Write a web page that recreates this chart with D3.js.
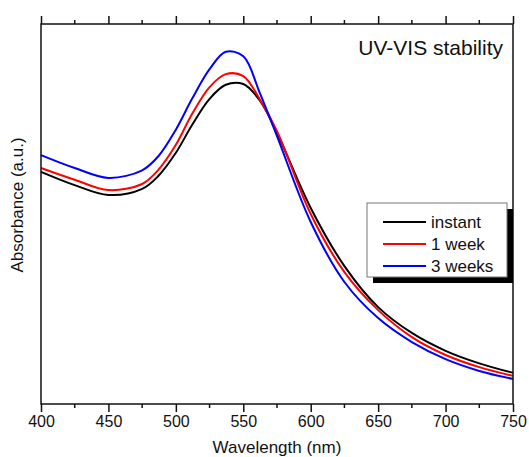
<!DOCTYPE html>
<html>
<head>
<meta charset="utf-8">
<script src="https://cdn.jsdelivr.net/npm/d3@7"></script>
<style>
  body { margin: 0; background: #fff; }
  text { font-family: "Liberation Sans", Arial, sans-serif; fill: #111; }
</style>
</head>
<body>
<script>
const wavelengths = [400, 425, 450, 475, 487, 500, 512, 525, 537, 550, 562, 575, 600, 625, 650, 675, 700, 725, 750];

// Absorbance (a.u.) for each sample
const instant = [0.611, 0.576, 0.550, 0.566, 0.600, 0.661, 0.734, 0.803, 0.840, 0.842, 0.800, 0.713, 0.516, 0.363, 0.255, 0.187, 0.140, 0.107, 0.082];
const oneWeek = [0.621, 0.590, 0.563, 0.579, 0.616, 0.682, 0.763, 0.834, 0.868, 0.863, 0.803, 0.718, 0.500, 0.347, 0.247, 0.176, 0.129, 0.097, 0.074];
const threeWeeks = [0.655, 0.621, 0.595, 0.615, 0.652, 0.722, 0.803, 0.881, 0.927, 0.915, 0.821, 0.705, 0.479, 0.321, 0.226, 0.163, 0.118, 0.087, 0.066];

const seriesNames = ["instant", "1 week", "3 weeks"];
const seriesColors = ["#000000", "#ff0000", "#0000ff"];
const xTicks = [400, 450, 500, 550, 600, 650, 700, 750];

const series = [instant, oneWeek, threeWeeks].map((vals, i) => ({
    name: seriesNames[i],
    color: seriesColors[i],
    points: wavelengths.map((w, j) => ({ x: w, y: vals[j] }))
}));

// Chart dimensions
const width = 529, height = 457;
const margin = { top: 24, right: 16, bottom: 53, left: 41 };
const innerW = width - margin.left - margin.right;
const innerH = height - margin.top - margin.bottom;

const svg = d3.select("body").append("svg")
    .attr("width", width)
    .attr("height", height);

const g = svg.append("g")
    .attr("transform", "translate(" + margin.left + "," + margin.top + ")");

const xScale = d3.scaleLinear().domain([400, 750]).range([0, innerW]);
const yScale = d3.scaleLinear().domain([0, 1]).range([innerH, 0]);

// Curves
const line = d3.line()
    .x(d => xScale(d.x))
    .y(d => yScale(d.y))
    .curve(d3.curveCatmullRom.alpha(0.5));

g.selectAll(".curve")
    .data(series)
    .enter().append("path")
    .attr("class", "curve")
    .attr("d", d => line(d.points))
    .attr("fill", "none")
    .attr("stroke", d => d.color)
    .attr("stroke-width", 2);

// Minor ticks every 25 nm
const minorTicks = d3.range(425, 750, 50);

// Bottom axis
const xAxis = d3.axisBottom(xScale).tickValues(xTicks).tickSize(8).tickPadding(4).tickFormat(d3.format("d"));
const bottomAxis = g.append("g")
    .attr("transform", "translate(0," + innerH + ")")
    .call(xAxis);
bottomAxis.selectAll(".tick text").style("font-size", "16px").attr("font-family", null);
bottomAxis.append("g").selectAll("line")
    .data(minorTicks).enter().append("line")
    .attr("x1", d => xScale(d)).attr("x2", d => xScale(d))
    .attr("y1", 0).attr("y2", 4)
    .attr("stroke", "#111").attr("stroke-width", 1.5);

// Top axis
const topAxis = g.append("g")
    .call(d3.axisTop(xScale).tickValues(xTicks).tickSize(8).tickFormat(""));
topAxis.append("g").selectAll("line")
    .data(minorTicks).enter().append("line")
    .attr("x1", d => xScale(d)).attr("x2", d => xScale(d))
    .attr("y1", 0).attr("y2", -4)
    .attr("stroke", "#111").attr("stroke-width", 1.5);

[bottomAxis, topAxis].forEach(ax => {
    ax.select(".domain").remove();
    ax.selectAll(".tick line").attr("stroke", "#111").attr("stroke-width", 1.5);
});

// Frame
g.append("rect")
    .attr("width", innerW)
    .attr("height", innerH)
    .attr("fill", "none")
    .attr("stroke", "#111")
    .attr("stroke-width", 1.5);

// Axis titles
svg.append("text")
    .attr("x", margin.left + innerW / 2)
    .attr("y", 453)
    .attr("text-anchor", "middle")
    .style("font-size", "17px")
    .text("Wavelength (nm)");

svg.append("text")
    .attr("transform", "translate(23,205) rotate(-90)")
    .attr("text-anchor", "middle")
    .style("font-size", "17px")
    .text("Absorbance (a.u.)");

// Title inside plot
svg.append("text")
    .attr("x", 503)
    .attr("y", 55)
    .attr("text-anchor", "end")
    .style("font-size", "21px")
    .text("UV-VIS stability");

// Legend with drop shadow
const legend = svg.append("g").attr("transform", "translate(367,203)");
legend.append("rect")
    .attr("x", 6).attr("y", 6)
    .attr("width", 140).attr("height", 74)
    .attr("fill", "#000");
legend.append("rect")
    .attr("width", 140).attr("height", 74)
    .attr("fill", "#fff")
    .attr("stroke", "#777")
    .attr("stroke-width", 1);

const rows = legend.selectAll(".row")
    .data(series)
    .enter().append("g")
    .attr("class", "row")
    .attr("transform", (d, i) => "translate(0," + (19 + i * 22) + ")");
rows.append("line")
    .attr("x1", 16).attr("x2", 59)
    .attr("stroke", d => d.color)
    .attr("stroke-width", 2);
rows.append("text")
    .attr("x", 64)
    .attr("dy", "0.35em")
    .style("font-size", "17px")
    .text(d => d.name);
</script>
</body>
</html>
